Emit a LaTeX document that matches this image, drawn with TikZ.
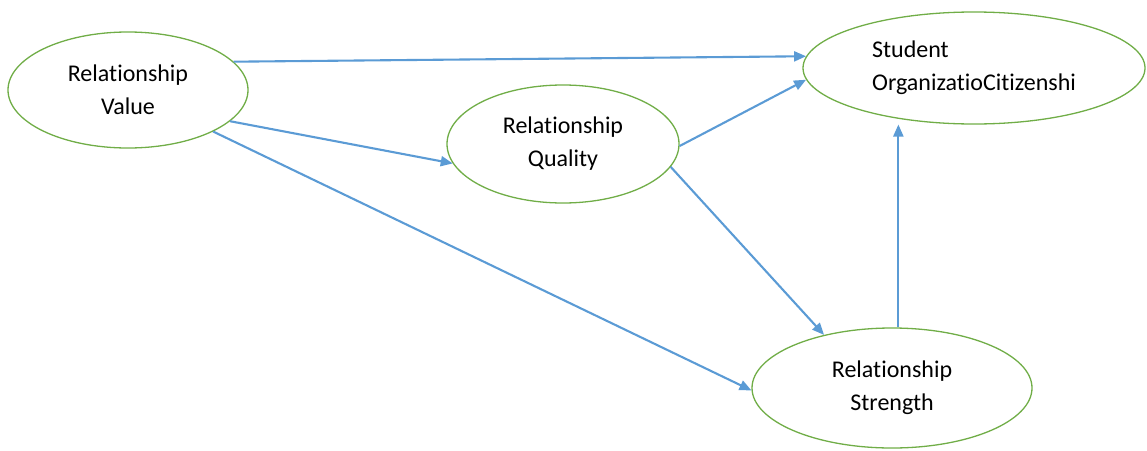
\documentclass[tikz,border=0pt]{standalone}
\usepackage{fontspec}
\setmainfont{Carlito}[Ligatures=NoCommon]
\usetikzlibrary{shapes.geometric,arrows.meta}
\definecolor{ellgreen}{RGB}{112,173,71}
\definecolor{arrblue}{RGB}{91,155,213}
\begin{document}
\begin{tikzpicture}[x=1pt,y=-1pt,
  oval/.style={ellipse,draw=ellgreen,line width=1.3pt,inner sep=0pt,align=center,
    font=\fontsize{24}{33}\selectfont},
  link/.style={draw=arrblue,line width=2.1pt,-{Triangle[length=12pt,width=10pt]}}]
  \useasboundingbox (0,0) rectangle (1147,450);
  \node[oval,minimum width=240pt,minimum height=116pt] (rv) at (128,90) {Relationship\\Value};
  \node[oval,minimum width=342pt,minimum height=112pt,align=left] (soc) at (974,68) {Student\\OrganizatioCitizenshi};
  \node[oval,minimum width=232pt,minimum height=118pt] (rq) at (563,144) {Relationship\\Quality};
  \node[oval,minimum width=280pt,minimum height=120pt] (rs) at (892,388) {Relationship\\Strength};
  \draw[link] (rv.15) -- (soc.176);
  \draw[link] (rv.-17) -- (rq.-170);
  \draw[link] (rv.-26) -- (rs.-179);
  \draw[link] (rq.-1) -- (soc.-176);
  \draw[link] (rq.-12) -- (rs.142);
  \draw[link] (rs.84) -- (rs.84 |- soc.258);
\end{tikzpicture}
\end{document}
